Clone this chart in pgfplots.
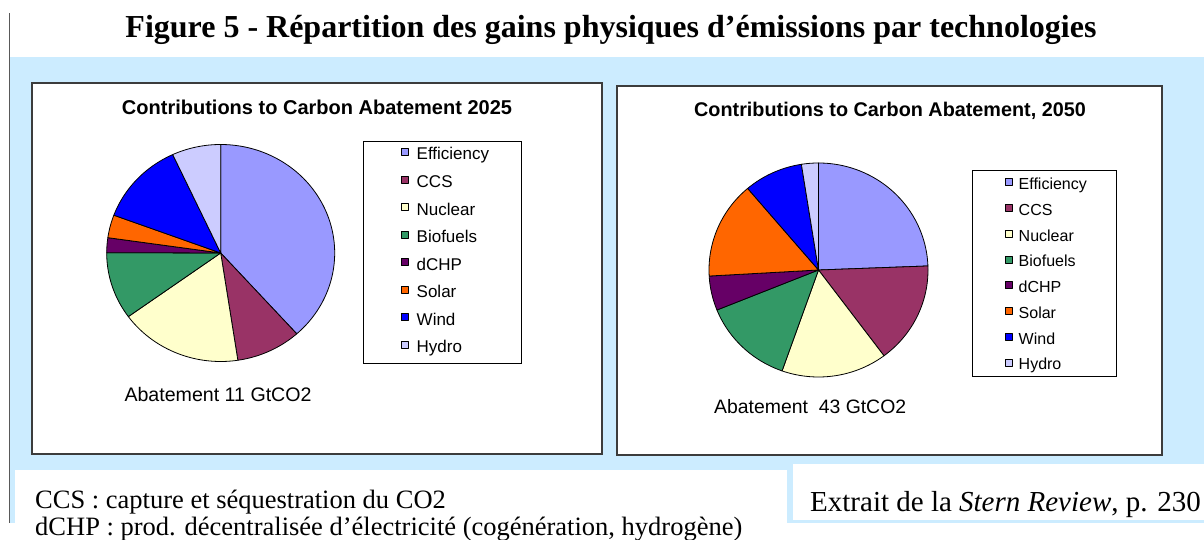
\documentclass[border=0pt]{standalone}
\usepackage{pgfplots}
\pgfplotsset{compat=1.18}
\usepackage{pgfplotstable}
\usepackage{fontspec}
\setmainfont{Liberation Serif}
\newfontfamily\arial{Liberation Sans}
\definecolor{bgblue}{RGB}{204,236,255}
\definecolor{cEff}{HTML}{9999FF}
\definecolor{cCCS}{HTML}{993366}
\definecolor{cNuc}{HTML}{FFFFCC}
\definecolor{cBio}{HTML}{339966}
\definecolor{cCHP}{HTML}{660066}
\definecolor{cSol}{HTML}{FF6600}
\definecolor{cWind}{HTML}{0000FF}
\definecolor{cHyd}{HTML}{CCCCFF}
\definecolor{frame}{RGB}{60,60,60}

\pgfplotstableread{
cat val col
Efficiency 38.3 cEff
CCS 9.2 cCCS
Nuclear 17.4 cNuc
Biofuels 10.0 cBio
dCHP 2.2 cCHP
Solar 3.4 cSol
Wind 12.4 cWind
Hydro 6.9 cHyd
}\pieA

\pgfplotstableread{
cat val col
Efficiency 24.4 cEff
CCS 15.4 cCCS
Nuclear 15.6 cNuc
Biofuels 13.5 cBio
dCHP 5.2 cCHP
Solar 14.7 cSol
Wind 8.7 cWind
Hydro 2.5 cHyd
}\pieB

\newcommand{\piechart}[1]{%
  \pgfplotstablegetrowsof{#1}%
  \pgfmathtruncatemacro\pielast{\pgfplotsretval-1}%
  \def\pietotal{0}%
  \pgfplotsforeachungrouped \pieidx in {0,...,\pielast}{%
    \pgfplotstablegetelem{\pieidx}{val}\of{#1}%
    \pgfmathsetmacro\pietotal{\pietotal+\pgfplotsretval}%
  }%
  \def\piestart{90}%
  \pgfplotsforeachungrouped \pieidx in {0,...,\pielast}{%
    \pgfplotstablegetelem{\pieidx}{val}\of{#1}%
    \pgfmathsetmacro\pieend{\piestart-360*\pgfplotsretval/\pietotal}%
    \pgfplotstablegetelem{\pieidx}{col}\of{#1}%
    \let\piecol\pgfplotsretval
    \pgfplotstablegetelem{\pieidx}{cat}\of{#1}%
    \let\piecat\pgfplotsretval
    \edef\pietemp{\noexpand\addplot[fill=\piecol, draw=black, line width=0.8pt, line join=round, domain=\pieend:\piestart, samples=90] ({cos(x)},{sin(x)}) -- (axis cs:0,0) -- cycle; \noexpand\addlegendentry{\piecat}}%
    \pietemp
    \let\piestart\pieend
  }%
}

\pgfplotsset{
  pieaxis/.style={
    anchor=origin, at={(0,0)}, scale only axis, hide axis,
    xmin=-1, xmax=1, ymin=-1, ymax=1, clip=false,
    legend cell align=left,
    legend image code/.code={\draw[##1, draw=black, line width=0.5pt] (0pt,0.5pt) rectangle (7pt,7.5pt);},
  }
}

\begin{document}
\begin{tikzpicture}[x=1pt,y=1pt]
\path[use as bounding box, clip] (0,0) rectangle (1204,540);
\fill[white] (0,0) rectangle (1204,540);
% background
\fill[bgblue] (10,17) rectangle (1204,483);
\draw[gray!70!black, line width=1pt] (9,17) -- (9,527);
\fill[white] (15,0) rectangle (787,70);
\fill[white] (793,20) rectangle (1204,76);
% title
\node[anchor=base, inner sep=0pt, font=\bfseries\fontsize{32}{36}\selectfont] at (611,502) {Figure 5 - Répartition des gains physiques d’émissions par technologies};
% captions
\node[anchor=base west, inner sep=0pt, font=\fontsize{26.5}{30}\selectfont] at (35,31) {CCS : capture et séquestration du CO2};
\node[anchor=base west, inner sep=0pt, font=\fontsize{26.5}{30}\selectfont] at (35,4.5) {dCHP : prod. décentralisée d’électricité (cogénération, hydrogène)};
\node[anchor=base west, inner sep=0pt, font=\fontsize{29}{32}\selectfont] at (810,28.3) {Extrait de la \textit{Stern Review}, p. 230};
% panels
\draw[frame, fill=white, line width=1.5pt] (32,86) rectangle (602,457);
\draw[frame, fill=white, line width=1.5pt] (617,85) rectangle (1162,454);
% legend frames
\draw[black, line width=1pt] (363,176) rectangle (521,398);
\draw[black, line width=1pt] (972.5,163) rectangle (1116,369);
% chart titles
\node[anchor=base, inner sep=0pt, font=\arial\bfseries\fontsize{20}{24}\selectfont] at (317,425) {Contributions to Carbon Abatement 2025};
\node[anchor=base, inner sep=0pt, font=\arial\bfseries\fontsize{19.8}{24}\selectfont] at (890,423.3) {Contributions to Carbon Abatement, 2050};
\node[anchor=base west, inner sep=0pt, font=\arial\fontsize{19.6}{22}\selectfont] at (124.3,138.3) {Abatement 11 GtCO2};
\node[anchor=base west, inner sep=0pt, font=\arial\fontsize{19.4}{22}\selectfont] at (714,126.7) {Abatement \ 43 GtCO2};

\begin{scope}[shift={(220.7,287)}]
\begin{axis}[pieaxis, width=228pt, height=217pt,
  legend style={draw=none, fill=none, inner sep=0pt, at={(1.2908,0.9839)}, anchor=north west,
    row sep=12.8pt, column sep=8pt,
    nodes={inner sep=0pt, text height=11pt, text depth=3pt, font=\arial\fontsize{17}{19}\selectfont}}]
\piechart{\pieA}
\end{axis}
\end{scope}

\begin{scope}[shift={(818.5,270)}]
\begin{axis}[pieaxis, width=219pt, height=214pt,
  legend style={draw=none, fill=none, inner sep=0pt, at={(1.3516,0.9285)}, anchor=north west,
    row sep=11.5pt, column sep=6pt,
    nodes={inner sep=0pt, text height=10pt, text depth=3pt, font=\arial\fontsize{16}{18}\selectfont}}]
\piechart{\pieB}
\end{axis}
\end{scope}
\end{tikzpicture}
\end{document}
